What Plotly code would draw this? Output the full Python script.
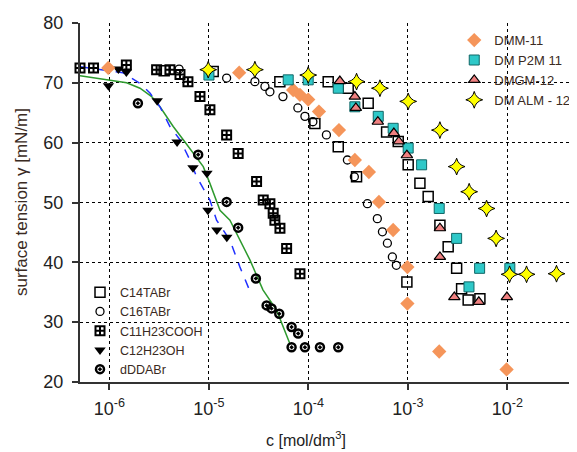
import plotly.graph_objects as go
import numpy as np

# ---- data: log10(c [mol/dm3]) and surface tension [mN/m] ----
c14_lgc = [-5.45, -4.957, -4.287, -3.935, -3.700, -3.516, -3.801, -3.600, -3.399, -3.214, -3.097,
           -2.997, -2.879, -2.796, -2.678, -2.595, -2.510, -2.460, -2.394, -2.276, -3.010]
c14_st = [72.0, 71.9, 70.2, 63.2, 59.3, 54.3, 70.2, 69.1, 66.6, 61.8, 60.2,
          56.3, 53.2, 51.0, 46.2, 42.6, 39.0, 35.6, 33.7, 33.9, 36.7]

c16_lgc = [-5.30, -4.822, -4.538, -4.437, -4.387, -4.256, -4.106, -4.035, -3.955, -3.819, -3.608,
           -3.538, -3.407, -3.307, -3.256, -3.206, -3.156, -3.116]
c16_st = [72.3, 70.8, 70.2, 69.4, 68.5, 67.7, 65.8, 64.4, 63.5, 61.3, 57.1,
          54.3, 49.8, 47.3, 45.1, 43.2, 40.9, 39.5]

c11_lgc = [-6.296, -6.16, -5.83, -5.526, -5.392, -5.291, -5.211, -5.090, -4.990, -4.822, -4.706,
           -4.521, -4.454, -4.387, -4.354, -4.337, -4.286, -4.219, -4.085]
c11_st = [72.5, 72.5, 73.0, 72.2, 72.2, 71.4, 70.2, 67.7, 65.5, 61.3, 58.2,
          53.5, 50.4, 49.8, 48.2, 47.05, 45.7, 42.3, 38.1]

c12oh_lgc = [-6.01, -5.91, -5.83, -5.52, -5.32, -5.16, -5.02, -5.01, -4.92, -4.82]
c12oh_st = [69.5, 72.3, 71.8, 67.0, 60.1, 55.8, 54.9, 48.7, 45.4, 44.2]

dd_lgc = [-5.714, -5.108, -4.822, -4.706, -4.528, -4.420, -4.370, -4.293, -4.169, -4.103,
          -4.169, -4.035, -3.884, -3.700]
dd_st = [66.6, 58.0, 50.1, 45.8, 37.3, 32.8, 32.3, 31.4, 29.2, 28.1,
         25.8, 25.8, 25.8, 25.8]

dmm11_lgc = [-6.012, -4.696, -4.153, -4.085, -4.002, -3.894, -3.693, -3.533, -3.392, -3.291,
             -3.148, -3.005, -3.005, -2.685, -2.008]
dmm11_st = [72.5, 71.7, 68.8, 68.0, 67.2, 65.2, 62.1, 57.1, 55.1, 50.1,
            45.4, 39.2, 33.1, 25.1, 22.1]

dmp2m11_lgc = [-5.00, -4.203, -4.002, -3.700, -3.533, -3.298, -3.148, -2.997, -2.862, -2.685,
               -2.510, -2.386, -2.279, -1.975]
dmp2m11_st = [71.3, 70.5, 70.5, 69.1, 66.0, 64.4, 62.4, 59.1, 56.3, 49.0,
              44.0, 35.9, 39.0, 39.0]

dmgm12_lgc = [-3.684, -3.533, -3.523, -3.302, -3.141, -3.091, -3.010, -2.678, -2.678, -2.533,
              -2.287, -2.005]
dmgm12_st = [70.3, 67.7, 65.8, 63.5, 61.6, 60.2, 57.9, 45.7, 40.9, 34.2, 33.4, 34.2]

dmalm12_lgc = [-5.007, -4.538, -4.002, -3.516, -3.281, -2.997, -2.678, -2.510, -2.384, -2.209,
               -2.113, -1.978, -1.807, -1.506]
dmalm12_st = [72.2, 72.2, 71.3, 70.2, 69.1, 66.9, 62.1, 56.0, 51.8, 49.0,
              44.0, 38.0, 38.0, 38.1]

green_lgc = [-6.296, -5.995, -5.827, -5.693, -5.576, -5.492, -5.359, -5.258, -5.158, -5.057,
             -4.990, -4.889, -4.789, -4.588, -4.457, -4.320, -4.186]
green_st = [71.2, 70.5, 70.0, 69.1, 67.7, 66.0, 62.7, 60.5, 58.2, 56.0,
            53.2, 48.7, 47.05, 40.4, 35.4, 32.0, 26.4]

blue_lgc = [-6.296, -6.062, -5.864, -5.693, -5.593, -5.492, -5.392, -5.291, -5.191, -5.124,
            -4.990, -4.923, -4.789, -4.688, -4.571]
blue_st = [72.7, 72.2, 71.7, 69.9, 68.3, 66.0, 62.7, 60.5, 57.1, 54.3,
           50.4, 47.05, 43.7, 39.2, 34.5]

x_tick_exp = [-6, -5, -4, -3, -2]
y_ticks = [20, 30, 40, 50, 60, 70, 80]


def c(vals):
    return np.power(10.0, vals)


fig = go.Figure()

fig.add_trace(go.Scatter(x=c(green_lgc), y=green_st, mode="lines",
                         line=dict(color="#2e9a2e", width=1.5), showlegend=False))
fig.add_trace(go.Scatter(x=c(blue_lgc), y=blue_st, mode="lines",
                         line=dict(color="#2030ff", width=1.5, dash="dash"), showlegend=False))

left = dict(legend="legend")
right = dict(legend="legend2")

fig.add_trace(go.Scatter(x=c(c14_lgc), y=c14_st, mode="markers", name="C14TABr", **left,
                         marker=dict(symbol="square-open", size=10, color="black", line=dict(width=1.5))))
fig.add_trace(go.Scatter(x=c(c16_lgc), y=c16_st, mode="markers", name="C16TABr", **left,
                         marker=dict(symbol="circle-open", size=8, color="black", line=dict(width=1.3))))
fig.add_trace(go.Scatter(x=c(c11_lgc), y=c11_st, mode="markers", name="C11H23COOH", **left,
                         marker=dict(symbol="square-cross-open", size=9, color="black", line=dict(width=2))))
fig.add_trace(go.Scatter(x=c(c12oh_lgc), y=c12oh_st, mode="markers", name="C12H23OH", **left,
                         marker=dict(symbol="triangle-down", size=10, color="black")))
fig.add_trace(go.Scatter(x=c(dd_lgc), y=dd_st, mode="markers", name="dDDABr", **left,
                         marker=dict(symbol="circle-open-dot", size=8, color="black", line=dict(width=2.5))))

fig.add_trace(go.Scatter(x=c(dmm11_lgc), y=dmm11_st, mode="markers", name="DMM-11", **right,
                         marker=dict(symbol="diamond", size=11, color="#f5955a", line=dict(width=0))))
fig.add_trace(go.Scatter(x=c(dmp2m11_lgc), y=dmp2m11_st, mode="markers", name="DM P2M 11", **right,
                         marker=dict(symbol="square", size=10, color="#2ec8c8", line=dict(width=1, color="#116666"))))
fig.add_trace(go.Scatter(x=c(dmgm12_lgc), y=dmgm12_st, mode="markers", name="DMGM-12", **right,
                         marker=dict(symbol="triangle-up", size=10, color="#f08080", line=dict(width=1.2, color="black"))))
fig.add_trace(go.Scatter(x=c(dmalm12_lgc), y=dmalm12_st, mode="markers", name="DM ALM - 12", **right,
                         marker=dict(symbol="star-diamond", size=12, color="#ffff00", line=dict(width=1, color="black"))))

for tr in fig.data:
    tr.cliponaxis = False

# the page body adds an 8px offset, so the figure is 8px smaller than the window
fig.update_layout(
    width=569, height=444,
    margin=dict(l=72, r=0, t=15, b=70, autoexpand=False),
    paper_bgcolor="white", plot_bgcolor="white",
    font=dict(family="Liberation Sans, Arial, sans-serif", color="#222"),
    legend=dict(x=0.0, y=0.291, xanchor="left", yanchor="top", bgcolor="rgba(0,0,0,0)",
                font=dict(size=12.5, color="#3a2a22"), tracegroupgap=0),
    legend2=dict(x=0.753, y=0.994, xanchor="left", yanchor="top", bgcolor="rgba(0,0,0,0)",
                 font=dict(size=13, color="#3a2a22"), tracegroupgap=0),
    annotations=[
        dict(text="c [mol/dm<sup>3</sup>]", xref="paper", yref="paper", x=0.455, y=-0.158,
             xanchor="center", yanchor="middle", showarrow=False,
             font=dict(size=16, color="#222")),
        dict(text="surface tension γ [mN/m]", xref="paper", yref="paper", x=-0.119, y=0.501,
             xanchor="center", yanchor="middle", textangle=-90, showarrow=False,
             font=dict(size=17, color="#3a2a22")),
    ],
)

fig.update_xaxes(
    type="log", range=[-6.296, -1.3], automargin=False,
    tickvals=[10.0 ** e for e in x_tick_exp],
    ticktext=["10<sup>%d</sup>" % e for e in x_tick_exp],
    tickfont=dict(size=18, color="#222"), ticklabelstandoff=3,
    showgrid=True, gridcolor="black", griddash="dot", gridwidth=1.3,
    showline=True, linecolor="#333", linewidth=2,
    ticks="outside", ticklen=6, tickwidth=2, tickcolor="#333",
    zeroline=False,
)
fig.update_yaxes(
    range=[20, 80], tickvals=y_ticks, automargin=False,
    tickfont=dict(size=18, color="#222"), ticklabelstandoff=5,
    showgrid=True, gridcolor="black", griddash="dot", gridwidth=1.3,
    showline=True, linecolor="#333", linewidth=2,
    ticks="outside", ticklen=6, tickwidth=2, tickcolor="#333",
    zeroline=False,
)

fig.write_html("out.html")
